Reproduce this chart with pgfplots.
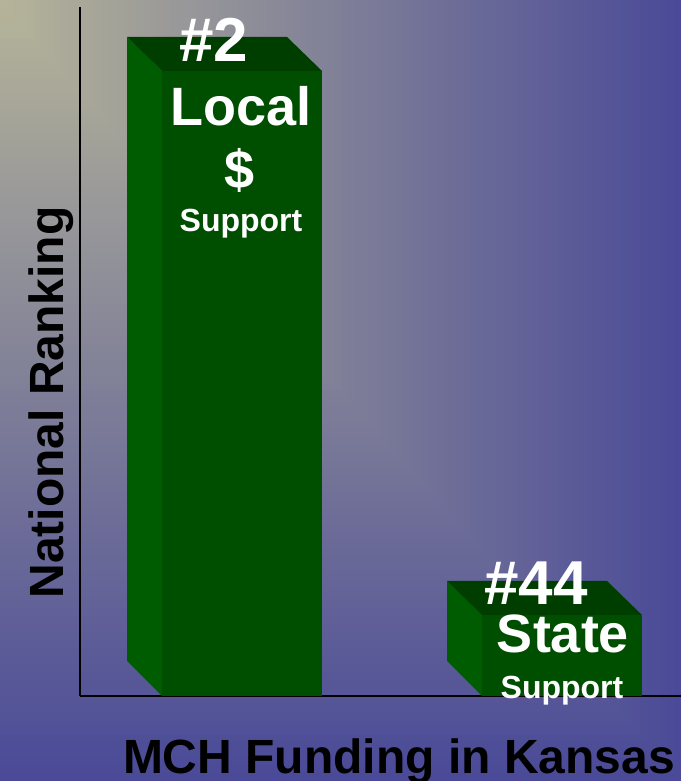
\documentclass[border=0pt]{standalone}
\usepackage{pgfplots}
\pgfplotsset{compat=1.18}
\usepackage{fontspec}
\setmainfont{Liberation Sans}

\definecolor{bgA}{RGB}{182,181,153}
\definecolor{bgB}{RGB}{74,74,152}
\definecolor{barFront}{RGB}{0,78,0}
\definecolor{barSide}{RGB}{0,92,0}
\definecolor{barTop}{RGB}{0,62,0}

\newcommand{\fs}[1]{\fontsize{#1}{#1}\selectfont\bfseries}

\begin{document}
\begin{tikzpicture}
\useasboundingbox (0,0) rectangle (681pt,781pt);
\clip (0,0) rectangle (681pt,781pt);
% gradient "from corner": light at top left, blue towards right and bottom
\foreach \i in {100,99,...,1}{
  \fill[bgB!\i!bgA] (0,781pt) rectangle ({6.81pt*\i},{781pt-7.81pt*\i});
}
\begin{axis}[
    at={(80pt,85pt)}, anchor=origin,
    x=1pt, y=1pt,
    xmin=0, xmax=601, ymin=0, ymax=689,
    axis x line=bottom, axis y line=left,
    axis line style={-, line width=2pt, black},
    xtick=\empty, ytick=\empty,
    clip=false,
]
% local bar (#2)
\addplot[draw=none, fill=barSide] coordinates {(82,0) (82,625) (47,659) (47,35)} -- cycle;
\addplot[draw=none, fill=barTop] coordinates {(82,625) (242,625) (207,659) (47,659)} -- cycle;
\addplot[draw=none, fill=barFront] coordinates {(82,0) (242,0) (242,625) (82,625)} -- cycle;
% state bar (#44)
\addplot[draw=none, fill=barSide] coordinates {(402,0) (402,81) (367,115) (367,35)} -- cycle;
\addplot[draw=none, fill=barTop] coordinates {(402,81) (562,81) (527,115) (367,115)} -- cycle;
\addplot[draw=none, fill=barFront] coordinates {(402,0) (562,0) (562,81) (402,81)} -- cycle;

\begin{scope}[every node/.style={text=white, inner sep=0pt, anchor=base}]
\node at (axis cs:134,634) {\fs{62}\#2};
\node at (axis cs:161,570) {\fs{54}Local};
\node at (axis cs:160,507) {\fs{54}\$};
\node at (axis cs:161,464) {\fs{32}Support};
\node at (axis cs:456,91) {\fs{62}\#44};
\node at (axis cs:483,43) {\fs{54}State};
\node at (axis cs:482,-2) {\fs{32}Support};
\end{scope}

\node[anchor=base, inner sep=0pt] at (axis cs:319,-77) {\fs{48}MCH Funding in Kansas};
\node[anchor=base, inner sep=0pt, rotate=90] at (axis cs:-17,293.5) {\fs{48}National Ranking};
\end{axis}
\end{tikzpicture}
\end{document}
